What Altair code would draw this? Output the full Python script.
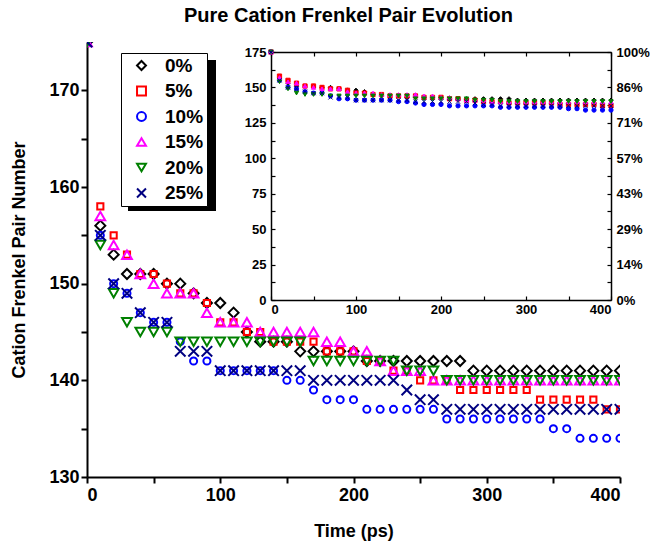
import altair as alt
import pandas as pd

# ---------------- data ----------------
times = [0, 10, 20, 30, 40, 50, 60, 70, 80, 90, 100, 110, 120, 130, 140, 150, 160, 170, 180, 190, 200,
         210, 220, 230, 240, 250, 260, 270, 280, 290, 300, 310, 320, 330, 340, 350, 360, 370, 380, 390, 400]

series = ["0%", "5%", "10%", "15%", "20%", "25%"]

p0 = [175, 156, 153, 151, 151, 151, 150, 150, 149, 148, 148, 147, 145, 144, 144, 144, 143, 143, 143, 143, 143,
      142, 142, 142, 142, 142, 142, 142, 142, 141, 141, 141, 141, 141, 141, 141, 141, 141, 141, 141, 141]
p5 = [175, 158, 155, 153, 151, 151, 150, 149, 149, 148, 146, 146, 145, 145, 144, 144, 144, 144, 143, 143, 143,
      142, 142, 141, 141, 140, 140, 140, 139, 139, 139, 139, 139, 139, 138, 138, 138, 138, 138, 137, 137]
p10 = [175, 155, 150, 149, 147, 146, 146, 144, 142, 142, 141, 141, 141, 141, 141, 140, 140, 139, 138, 138, 138,
       137, 137, 137, 137, 137, 137, 136, 136, 136, 136, 136, 136, 136, 136, 135, 135, 134, 134, 134, 134]
p15 = [175, 157, 154, 153, 151, 150, 149, 149, 149, 147, 146, 146, 146, 145, 145, 145, 145, 145, 144, 144, 143,
       143, 142, 141, 141, 141, 140, 140, 140, 140, 140, 140, 140, 140, 140, 140, 140, 140, 140, 140, 140]
p20 = [175, 154, 149, 146, 145, 145, 145, 144, 144, 144, 144, 144, 144, 144, 144, 144, 144, 142, 142, 142, 142,
       142, 142, 142, 141, 141, 141, 140, 140, 140, 140, 140, 140, 140, 140, 140, 140, 140, 140, 140, 140]
p25 = [175, 155, 150, 149, 147, 146, 146, 143, 143, 143, 141, 141, 141, 141, 141, 141, 141, 140, 140, 140, 140,
       140, 140, 140, 139, 138, 138, 137, 137, 137, 137, 137, 137, 137, 137, 137, 137, 137, 137, 137, 137]

colors = ["#000000", "#FF0000", "#0000FF", "#FF00FF", "#008000", "#000080"]
shapes = ["diamond", "square", "circle", "triangle-up", "triangle-down", "M-1,-1L1,1M-1,1L1,-1"]
sizes_main = [100, 38, 50, 95, 95, 110]

x_ticks_main = [0, 50, 100, 150, 200, 250, 300, 350, 400]
y_ticks_main = [130, 135, 140, 145, 150, 155, 160, 165, 170]
x_labels_inset = [0, 100, 200, 300, 400]
x_ticks_inset = [0, 50, 100, 150, 200, 250, 300, 350, 400]
y_labels_inset = [0, 25, 50, 75, 100, 125, 150, 175]
y_ticks_inset = [0, 12.5, 25, 37.5, 50, 62.5, 75, 87.5, 100, 112.5, 125, 137.5, 150, 162.5, 175]

rows = []
for s, vals in zip(series, [p0, p5, p10, p15, p20, p25]):
    for t, v in zip(times, vals):
        rows.append({"Time": t, "Value": v, "Series": s})
df = pd.DataFrame(rows)

# ---------------- layout ----------------
W, H = 533, 435
IX0, IX1 = 184, 524      # inset plot area inside the view (pixels)
IY0, IY1 = 10, 258
FONT = "Liberation Sans"

main_x = alt.Scale(domain=[0, 400], nice=False, zero=False)
main_y = alt.Scale(domain=[130, 175], nice=False, zero=False)
ins_x = alt.Scale(domain=[0, 400], range=[IX0, IX1], nice=False, zero=False)
ins_y = alt.Scale(domain=[0, 175], range=[IY1, IY0], nice=False, zero=False)

leg = alt.Legend(
    title=None, orient="none", legendX=34, legendY=11,
    labelFont=FONT, labelFontSize=19, labelFontWeight="bold", labelColor="black",
    strokeColor="black", fillColor="white", padding=3, rowPadding=5.5,
    symbolStrokeWidth=2, symbolSize=80, symbolOffset=8, labelOffset=14,
)

size_rule = alt.when(alt.datum.Series == series[1]).then(alt.value(sizes_main[1]))
for s, sz in zip(series[2:], sizes_main[2:]):
    size_rule = size_rule.when(alt.datum.Series == s).then(alt.value(sz))
size_rule = size_rule.otherwise(alt.value(sizes_main[0]))

main = alt.Chart(df).mark_point(filled=False, strokeWidth=2, opacity=1, clip=True).encode(
    x=alt.X("Time:Q", scale=main_x, axis=alt.Axis(
        values=x_ticks_main, labelExpr="datum.value % 100 == 0 ? datum.label : ''",
        title="Time (ps)", titleFontSize=18, titlePadding=18, labelFontSize=18,
        tickSize=6, tickWidth=2, domainWidth=2, labelPadding=3, grid=False)),
    y=alt.Y("Value:Q", scale=main_y, axis=alt.Axis(
        values=y_ticks_main, labelExpr="datum.value % 10 == 0 ? datum.label : ''",
        title="Cation Frenkel Pair Number", titleFontSize=18, titlePadding=20, labelFontSize=18,
        tickSize=6, tickWidth=2, domainWidth=2, labelPadding=2, grid=False)),
    color=alt.Color("Series:N", sort=series, scale=alt.Scale(domain=series, range=colors), legend=leg),
    shape=alt.Shape("Series:N", sort=series, scale=alt.Scale(domain=series, range=shapes), legend=leg),
    size=size_rule,
)

inset_pts = alt.Chart(df).mark_point(filled=True, size=18, strokeWidth=1, opacity=1).encode(
    x=alt.X("Time:Q", scale=ins_x, axis=alt.Axis(
        orient="bottom", offset=-(H - IY1), values=x_labels_inset, ticks=False,
        domainWidth=1.5, labelFontSize=13, labelPadding=3, title=None, grid=False)),
    y=alt.Y("Value:Q", scale=ins_y, axis=alt.Axis(
        orient="left", offset=-IX0, values=y_labels_inset, ticks=False,
        domainWidth=1.5, labelFontSize=13, labelPadding=5, title=None, grid=False)),
    fill=alt.Fill("Series:N", sort=series, scale=alt.Scale(domain=series, range=colors), legend=None),
    stroke=alt.Stroke("Series:N", sort=series, scale=alt.Scale(domain=series, range=colors), legend=None),
    shape=alt.Shape("Series:N", sort=series, scale=alt.Scale(domain=series, range=shapes), legend=None),
)

inset_frame = alt.Chart(df).mark_point(opacity=0).encode(
    x=alt.X("Time:Q", scale=ins_x, axis=alt.Axis(
        orient="top", offset=-IY0, values=x_labels_inset, ticks=False, labels=False,
        domainWidth=1.5, title=None, grid=False)),
    y=alt.Y("Value:Q", scale=ins_y, axis=alt.Axis(
        orient="right", offset=-(W - IX1), values=y_labels_inset, ticks=False,
        labelExpr="format(round(datum.value / 175 * 100), 'd') + '%'",
        domainWidth=1.5, labelFontSize=13, labelPadding=5, title=None, grid=False)),
)

inset_ticks_bl = alt.Chart(df).mark_point(opacity=0).encode(
    x=alt.X("Time:Q", scale=ins_x, axis=alt.Axis(
        orient="bottom", offset=-(H - IY1 + 4), values=x_ticks_inset, labels=False, domain=False,
        tickSize=4, tickWidth=1.2, title=None, grid=False)),
    y=alt.Y("Value:Q", scale=ins_y, axis=alt.Axis(
        orient="left", offset=-(IX0 + 4), values=y_ticks_inset, labels=False, domain=False,
        tickSize=4, tickWidth=1.2, title=None, grid=False)),
)

inset_ticks_tr = alt.Chart(df).mark_point(opacity=0).encode(
    x=alt.X("Time:Q", scale=ins_x, axis=alt.Axis(
        orient="top", offset=-(IY0 + 4), values=x_ticks_inset, labels=False, domain=False,
        tickSize=4, tickWidth=1.2, title=None, grid=False)),
    y=alt.Y("Value:Q", scale=ins_y, axis=alt.Axis(
        orient="right", offset=-(W - IX1 + 4), values=y_ticks_inset, labels=False, domain=False,
        tickSize=4, tickWidth=1.2, title=None, grid=False)),
)

shadow = alt.Chart(pd.DataFrame({"k": [0]})).mark_rect(color="black").encode(
    x=alt.value(41), x2=alt.value(129), y=alt.value(18), y2=alt.value(169)
)

chart = alt.layer(
    shadow, inset_frame, inset_ticks_bl, inset_ticks_tr, inset_pts, main
).resolve_scale(
    x="independent", y="independent", shape="independent", color="independent"
).properties(
    width=W, height=H,
    title=alt.TitleParams("Pure Cation Frenkel Pair Evolution", font=FONT, fontSize=20,
                          fontWeight="bold", color="black", anchor="middle", offset=16, dx=-5),
    autosize=alt.AutoSizeParams(type="none"),
    padding={"left": 87, "top": 42, "right": 30, "bottom": 71},
).configure_view(stroke=None).configure_axis(
    labelFont=FONT, titleFont=FONT, labelFontWeight="bold", titleFontWeight="bold",
    labelColor="black", titleColor="black", domainColor="black", tickColor="black",
)

chart.save("out.html", embed_options={"renderer": "svg", "actions": False})
